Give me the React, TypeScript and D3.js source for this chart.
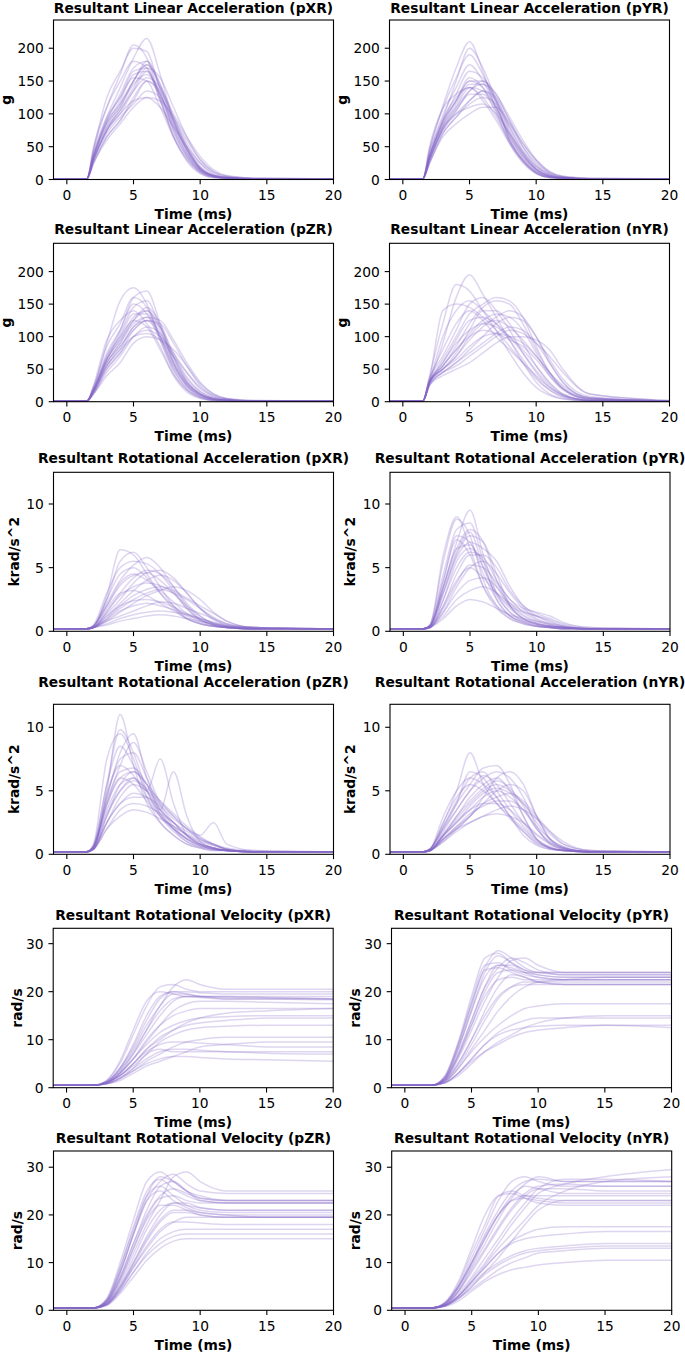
import React from 'react';
import * as d3 from 'd3';

// ---------- data ----------
const TIME_ACC = [-1, 1.5, 2, 3, 4, 5, 6, 7, 8, 9, 10, 11, 12, 14, 20];
const TIME_VEL = [-1, 2, 3, 4, 5, 6, 7, 8, 9, 10, 12, 15, 20];
const X_TICKS = [0, 5, 10, 15, 20];
const LIN_TICKS = [0, 50, 100, 150, 200];
const ROT_ACC_TICKS = [0, 5, 10];
const VEL_TICKS = [0, 10, 20, 30];

const LIN_PXR = [
  [1,1,30,75,100,135,165,130,80,40,15,5,2,1,1],
  [1,1,35,85,110,150,175,140,85,45,18,6,3,1,1],
  [1,1,25,65,90,120,150,135,95,55,25,8,3,1,1],
  [1,1,40,95,125,165,170,120,70,35,12,4,2,1,1],
  [1,1,30,70,95,115,135,125,90,50,20,7,3,1,1],
  [1,1,45,125,165,200,195,135,75,35,12,4,2,1,1],
  [1,1,35,95,140,185,215,160,90,45,15,5,2,1,1],
  [1,1,25,60,85,110,125,120,95,60,30,12,5,2,1],
  [1,1,30,80,115,150,180,145,95,50,18,6,3,1,1],
  [1,1,50,110,150,180,170,120,65,30,10,3,2,1,1],
  [1,1,30,75,105,135,155,140,100,65,35,15,6,2,1],
  [1,1,35,85,120,160,165,125,75,38,14,5,2,1,1],
  [1,1,40,90,125,155,150,110,65,32,12,4,2,1,1],
  [1,1,25,65,90,125,150,130,85,45,17,6,3,1,1],
  [1,1,35,90,130,170,180,140,90,48,18,6,3,1,1],
  [1,1,30,75,100,120,125,110,80,50,25,10,4,1,1],
  [1,1,45,110,160,205,185,125,65,28,9,3,2,1,1],
  [1,1,35,80,105,140,170,155,110,65,30,12,5,2,1],
  [1,1,30,75,110,145,160,130,80,40,15,5,2,1,1],
  [1,1,35,88,115,150,175,145,90,45,16,5,2,1,1],
];

const LIN_PYR = [
  [1,1,30,78,105,130,130,105,65,35,15,5,2,1,1],
  [1,1,35,88,120,150,140,110,70,38,16,6,3,1,1],
  [1,1,25,70,95,115,125,115,80,45,20,7,3,1,1],
  [1,1,40,98,140,175,150,110,65,32,12,4,2,1,1],
  [1,1,30,75,100,120,135,120,85,50,25,10,4,1,1],
  [1,1,45,112,170,210,165,105,55,25,9,3,2,1,1],
  [1,1,35,92,150,200,170,120,60,28,10,3,2,1,1],
  [1,1,25,65,85,100,110,110,85,55,30,12,5,2,1],
  [1,1,30,82,115,145,145,120,75,40,17,6,3,1,1],
  [1,1,50,108,130,140,120,90,55,28,10,3,2,1,1],
  [1,1,30,75,105,135,150,130,90,55,28,10,4,1,1],
  [1,1,35,84,120,155,140,100,60,30,12,4,2,1,1],
  [1,1,40,92,125,140,125,95,58,30,11,4,2,1,1],
  [1,1,25,70,95,120,135,125,90,50,22,8,3,1,1],
  [1,1,35,88,130,165,155,120,72,38,15,5,2,1,1],
  [1,1,30,78,100,110,115,100,70,42,20,8,3,1,1],
  [1,1,45,108,155,190,160,115,60,28,9,3,2,1,1],
  [1,1,35,82,110,135,145,130,95,60,30,12,5,2,1],
  [1,1,30,78,110,140,135,110,68,35,14,5,2,1,1],
  [1,1,35,88,120,150,150,125,80,42,16,5,2,1,1],
];

const LIN_PZR = [
  [1,1,15,55,80,115,125,100,55,25,10,4,2,1,1],
  [1,1,18,65,95,130,140,110,60,28,12,5,2,1,1],
  [1,1,12,45,70,100,115,105,70,35,15,6,3,1,1],
  [1,1,20,75,110,150,135,95,50,22,8,3,2,1,1],
  [1,1,15,50,75,100,110,100,75,45,20,8,3,1,1],
  [1,1,22,90,155,175,150,95,45,18,6,2,1,1,1],
  [1,1,18,70,110,160,170,120,60,25,9,3,2,1,1],
  [1,1,12,40,60,90,100,95,80,55,28,12,5,2,1],
  [1,1,15,60,90,125,145,120,70,32,12,4,2,1,1],
  [1,1,25,95,125,140,120,85,40,15,5,2,1,1,1],
  [1,1,15,55,85,115,130,125,95,60,30,12,5,2,1],
  [1,1,18,65,100,135,135,100,55,25,10,4,2,1,1],
  [1,1,20,70,100,125,115,80,42,18,7,2,1,1,1],
  [1,1,12,50,75,110,125,115,75,38,16,6,3,1,1],
  [1,1,18,65,105,145,155,115,65,30,12,4,2,1,1],
  [1,1,15,55,80,100,105,95,70,45,22,9,4,1,1],
  [1,1,22,85,120,160,145,100,50,20,7,2,1,1,1],
  [1,1,15,60,85,110,125,120,90,55,25,10,4,1,1],
  [1,1,18,60,90,120,130,105,60,28,11,4,2,1,1],
  [1,1,18,65,95,125,140,115,68,30,12,4,2,1,1],
];

const LIN_NYR = [
  [1,1,30,50,70,100,120,125,115,95,70,45,25,6,1],
  [1,1,35,140,150,145,130,110,85,60,35,18,8,2,1],
  [1,1,30,90,160,195,165,130,95,60,30,12,5,1,1],
  [1,1,25,45,60,80,100,120,130,125,100,65,35,8,1],
  [1,1,30,55,85,120,145,155,150,120,80,45,20,4,1],
  [1,1,35,70,110,150,160,140,110,75,45,22,10,2,1],
  [1,1,28,45,55,70,85,100,110,105,90,70,45,12,2],
  [1,1,30,60,95,125,130,120,100,75,48,25,10,2,1],
  [1,1,32,50,70,95,115,130,140,130,100,60,30,6,1],
  [1,1,40,120,180,170,140,110,75,45,22,10,4,1,1],
  [1,1,25,40,50,60,75,90,100,100,95,80,50,12,2],
  [1,1,30,55,80,100,110,105,95,85,65,40,20,4,1],
  [1,1,30,65,100,135,150,160,155,130,85,45,20,4,1],
  [1,1,28,50,75,110,140,140,120,90,55,28,12,2,1],
  [1,1,35,80,120,140,125,100,80,60,40,22,10,2,1],
  [1,1,25,45,60,75,90,105,115,110,90,60,30,6,1],
  [1,1,30,60,90,110,120,115,100,80,55,30,12,2,1],
  [1,1,30,50,65,85,100,105,100,90,70,45,22,5,1],
  [1,1,28,55,80,105,125,135,130,110,75,40,18,3,1],
  [1,1,32,100,140,155,140,120,95,65,38,18,7,1,1],
];

const ROT_PXR = [
  [.2,.2,.4,2.5,5.5,6.2,5,3.5,2,1,.6,.4,.3,.2,.2],
  [.2,.2,.3,1.5,3,4.2,4.8,4.5,3.5,2.2,1.2,.6,.4,.3,.2],
  [.2,.2,.3,1,1.8,2.5,3,3.3,3,2.5,1.8,1.1,.6,.3,.2],
  [.2,.2,.5,3,5,5.5,5.3,4.5,3.2,1.8,.9,.5,.3,.2,.2],
  [.2,.2,.3,.8,1.2,1.6,2,2.3,2.2,1.8,1.4,1,.6,.3,.2],
  [.2,.2,.4,2,3.8,4.5,4,3.2,2.3,1.4,.8,.5,.3,.2,.2],
  [.2,.2,.3,1.2,2.2,3.2,4,4.4,4,3,1.8,.9,.5,.3,.2],
  [.2,.2,.4,2.8,6.4,6,4.5,3,1.8,1,.6,.4,.3,.2,.2],
  [.2,.2,.3,.6,1,1.3,1.5,1.6,1.5,1.3,1,.7,.4,.2,.2],
  [.2,.2,.3,1.6,2.8,3.5,3.8,3.6,3,2,1.2,.6,.3,.2,.2],
  [.2,.2,.4,2.2,4,5.2,5.8,5,3.5,2,1,.5,.3,.2,.2],
  [.2,.2,.3,1,2,2.8,3.3,3.5,3.2,2.6,2,1.4,.8,.3,.2],
  [.2,.2,.3,1.8,3,3.2,2.8,2.2,1.6,1,.6,.4,.3,.2,.2],
  [.2,.2,.3,.8,1.5,2.2,2.8,3.2,3.5,3.2,2.5,1.5,.8,.3,.2],
  [.2,.2,.4,2.5,4.5,5,4.2,3,2,1.2,.7,.4,.3,.2,.2],
  [.2,.2,.3,.5,.8,1,1.2,1.3,1.2,1,.8,.6,.4,.2,.2],
  [.2,.2,.3,1.4,2.5,3.8,4.6,4.8,4.2,3,1.8,1,.5,.3,.2],
  [.2,.2,.3,1.2,2,2.4,2.5,2.3,1.9,1.4,1,.7,.4,.2,.2],
  [.2,.2,.4,2,3.6,4.4,4.6,4,3,1.8,.9,.5,.3,.2,.2],
  [.2,.2,.3,.9,1.6,2,2.2,2,1.7,1.3,.9,.6,.4,.2,.2],
];

const ROT_PYR = [
  [.2,.2,.4,4,7.5,7,4.5,2.5,1.2,.7,.4,.3,.2,.2,.2],
  [.2,.2,.5,5.5,8.8,7.5,4,2,1,.6,.4,.3,.2,.2,.2],
  [.2,.2,.3,2.5,5.5,6.5,5.5,3.5,2,1.2,.7,.4,.3,.2,.2],
  [.2,.2,.4,3.5,7,9.5,6,3,1.5,.8,.5,.3,.2,.2,.2],
  [.2,.2,.3,1.5,3.5,5,5.5,4.5,3,1.8,1,.6,.3,.2,.2],
  [.2,.2,.4,3,6,7.5,7,4.5,2,1,.6,.4,.3,.2,.2],
  [.2,.2,.3,1.2,2.5,3.2,3.5,3,2.2,1.6,1.2,.8,.4,.2,.2],
  [.2,.2,.5,4.5,8,8.5,5.5,2.5,1.2,.7,.4,.3,.2,.2,.2],
  [.2,.2,.3,2,4.5,6,6,5,3.2,2,1.4,1,.6,.3,.2],
  [.2,.2,.4,3.5,6.5,6.8,5,3,1.8,1,.6,.4,.3,.2,.2],
  [.2,.2,.3,1,2,2.5,2.3,1.8,1.3,1,.8,.6,.4,.2,.2],
  [.2,.2,.4,3,5.8,7,6.5,5.5,3.5,2,1.2,.7,.4,.2,.2],
  [.2,.2,.5,6,9,6.5,3.5,1.8,1,.6,.4,.3,.2,.2,.2],
  [.2,.2,.3,2,4,5,4.2,3,2,1.5,1.2,.9,.5,.2,.2],
  [.2,.2,.4,3.2,6.2,7.8,5,2.8,1.5,.9,.6,.4,.3,.2,.2],
  [.2,.2,.3,1.5,3,4,4.2,3.5,2.2,1.3,.8,.5,.3,.2,.2],
  [.2,.2,.4,4,7.2,6,3.5,2,1.2,.8,.5,.3,.2,.2,.2],
  [.2,.2,.3,2.5,5,6.2,5.8,4,2.5,1.8,1.5,1.2,.7,.3,.2],
  [.2,.2,.4,3.5,6.5,8,7,4,2,1,.6,.4,.3,.2,.2],
  [.2,.2,.3,1.8,3.8,5.2,5,3.8,2.5,1.5,.9,.5,.3,.2,.2],
];

const ROT_PZR = [
  [.2,.2,.5,5,11,7,4,2.5,1.5,.8,.5,.3,.3,.2,.2],
  [.2,.2,.6,4.5,8,9.5,6,3.5,2,1,.6,.4,.3,.2,.2],
  [.2,.2,.4,3,5.5,6.5,5.5,3.5,2.5,1.5,.8,.5,.3,.2,.2],
  [.2,.2,.7,5.5,8.5,7,5,3.2,2,1.2,.7,.4,.3,.2,.2],
  [.2,.2,.4,2.5,4.5,5.5,5,4,3,2,1.2,.7,.4,.2,.2],
  [.2,.2,.6,4,7,8.8,6.5,4,2.5,1.5,.8,.5,.3,.2,.2],
  [.2,.2,.4,2,3.5,4,3.8,3.2,2.5,1.8,1.2,.8,.4,.2,.2],
  [.2,.2,.8,7.5,9.5,7.5,4.5,2.5,1.5,.8,.5,.3,.3,.2,.2],
  [.2,.2,.4,3,5,6,5,7.5,4,1.5,.8,.5,.3,.2,.2],
  [.2,.2,.5,4,6,6.5,5.5,4.2,3,2,1.5,2.5,.8,.3,.2],
  [.2,.2,.4,2.5,4,4.5,4.5,3.5,6.5,3,1,.5,.3,.2,.2],
  [.2,.2,.5,4.5,7.5,8,6,3.8,2.2,1.2,.7,.4,.3,.2,.2],
  [.2,.2,.6,3.8,6,5.5,4.2,3,2.2,1.6,1.1,.8,.4,.2,.2],
  [.2,.2,.4,2,3,3.5,3.3,2.8,2.2,1.5,1,.7,.4,.2,.2],
  [.2,.2,.5,4.2,6.5,6.8,5.5,3.2,2,1.2,.7,.4,.3,.2,.2],
  [.2,.2,.7,5.5,9.8,8,5,3,1.8,1,.6,.4,.3,.2,.2],
  [.2,.2,.5,3.2,5,5.8,5.2,4.2,3.2,2.2,1.4,.8,.4,.2,.2],
  [.2,.2,.4,2.5,4,4.8,4.5,3.8,2.8,2,1.3,.8,.5,.3,.2],
  [.2,.2,.6,4.8,7,6.2,4.5,3,2,1.3,.8,.5,.3,.2,.2],
  [.2,.2,.5,3.5,5.5,6,5,3.5,2.5,1.5,.9,.5,.3,.2,.2],
];

const ROT_NYR = [
  [.2,.2,.4,2,4,6.5,6,4.5,3,1.8,.8,.4,.3,.2,.2],
  [.2,.2,.3,1.5,3,4.5,5.5,6,5,3,1.2,.5,.3,.2,.2],
  [.2,.2,.4,2.5,5,8,5.5,4,3,2,1,.5,.3,.2,.2],
  [.2,.2,.3,1.2,2.2,3,4,5,5.5,5,3,1.2,.5,.2,.2],
  [.2,.2,.3,1.5,2.5,3.5,4.5,5,4.5,3.5,2,1,.5,.2,.2],
  [.2,.2,.4,2.2,4,5.5,6.8,7,5.5,3,1.2,.5,.3,.2,.2],
  [.2,.2,.3,1,1.8,2.5,3,3.5,3.8,3.5,2.8,1.8,1,.3,.2],
  [.2,.2,.3,1.8,3.5,5,6,6.5,6,4.5,2.2,.8,.4,.2,.2],
  [.2,.2,.3,1.2,2,2.5,3,3.2,3,2.5,1.6,.9,.5,.2,.2],
  [.2,.2,.4,3,5,6,5.5,4.5,3,1.5,.7,.4,.3,.2,.2],
  [.2,.2,.3,1.5,2.8,4,5,5.5,5,4,2.5,1.2,.6,.2,.2],
  [.2,.2,.3,1,2,3,4,4.5,4.8,4.2,3,1.8,.8,.3,.2],
  [.2,.2,.4,2,3.5,5,6.2,5.5,4,2.5,1.2,.6,.3,.2,.2],
  [.2,.2,.3,1.4,2.6,3.5,4,4,3.5,2.5,1.5,.8,.4,.2,.2],
  [.2,.2,.4,2.5,4.5,5.5,5,4,2.8,1.8,.9,.5,.3,.2,.2],
  [.2,.2,.3,1.2,2,3,4.5,6,6.5,5.5,3,1.2,.5,.2,.2],
  [.2,.2,.3,1.6,3,4.2,5.2,5.8,5.2,3.8,2,.9,.4,.2,.2],
  [.2,.2,.3,1.2,2.2,3.2,3.8,4.2,4.2,3.5,2.2,1.2,.6,.2,.2],
  [.2,.2,.4,2.2,4.2,6,6.5,5,3.5,2.2,1.1,.5,.3,.2,.2],
  [.2,.2,.3,1.5,2.5,3.8,4.8,5.2,4.8,4,2.8,1.6,.8,.3,.2],
];

const VEL_PXR = [
  [.5,.5,1.2,4,9,15,19,20,19.5,19,19,18.8,18.5],
  [.5,.5,1.5,5,11,17,21,21.5,20.5,20,20,20,20],
  [.5,.5,1,3,7,12,17,19.5,19.5,19,18.8,18.7,18.5],
  [.5,.5,1.2,4,8,13,17,21,22.5,21.5,20.5,20.5,20.5],
  [.5,.5,1,2.5,5,8,10,12,13.5,14.5,15.5,16,16.5],
  [.5,.5,.8,2,4,6,7.5,8,8,7.8,7.5,7.2,7],
  [.5,.5,1,3,6,10,13,15,16,16.5,16.5,16.5,16.5],
  [.5,.5,.8,1.5,3,4.5,5.5,6.5,7.5,8.5,9,9.5,9.5],
  [.5,.5,1.2,3.5,7,11,15,18,19,19,18.5,18.5,18.5],
  [.5,.5,1,2.5,5,7.5,9,9.5,9.5,9.3,9,8.5,8.5],
  [.5,.5,.8,2,3.5,5,6,6.5,6.5,6.3,6,5.8,5.5],
  [.5,.5,1,3,6,9,11.5,13,14,14.5,14.8,15,15],
  [.5,.5,1.2,3.5,7.5,12,16,18.5,19,18.8,18.5,18.5,18.3],
  [.5,.5,1,2.5,4.5,7,9.5,11,12,12.5,12.8,13,13],
  [.5,.5,1.5,5.5,12,18,20,19.5,19,19,19,19,19],
  [.5,.5,.8,2,4,7,8,7.5,7.5,7.5,7.5,7.5,7.5],
  [.5,.5,1,3,6,9.5,13,16,17.5,18,18,17.8,17.5],
  [.5,.5,1,2.5,5,8,10.5,12,13,13.5,14,14.5,14.5],
  [.5,.5,1.3,4,8.5,14,18.5,20,20,19.8,19.5,19.5,19.5],
  [.5,.5,.8,1.8,3.5,5.5,7,8.5,9.5,10,10.5,10.5,10.5],
];

const VEL_PYR = [
  [.5,.5,2,8,16,24,27.5,26,24.5,24,23.5,23.5,23.5],
  [.5,.5,2.5,9.5,19,27,28,26,24.5,23.5,23,23,23],
  [.5,.5,1.8,7,14,21,25.5,25.5,24,23,22.5,22.5,22.5],
  [.5,.5,1.5,6,12,18,23,26.5,27,25.5,24,24,24],
  [.5,.5,1.2,4,8,12,16,19,21,22,22.5,23,23],
  [.5,.5,1,3,5.5,7.5,9,10.5,11.5,12,12.5,13,13],
  [.5,.5,2,8.5,17,24.5,25,24,23,22,21.5,21.5,21.5],
  [.5,.5,1.2,4,7.5,10.5,13,15,16.5,17,17.5,17.5,17.5],
  [.5,.5,1.8,7,14,21,25,27,26,24.5,23.5,23.5,23.5],
  [.5,.5,1,2.5,5,7.5,9.5,11,12.5,13.5,14.5,15,15],
  [.5,.5,1.5,5,10,15,19,21,21.5,21.5,21.5,21.5,21.5],
  [.5,.5,2.2,9,18,25.5,26,24.5,23.5,23,22.5,22.5,22.5],
  [.5,.5,1,3,6,9,11.5,13,14,14.5,14.5,14.5,14.5],
  [.5,.5,1.6,6.5,13,20,24,24.5,24,24,24,24,24],
  [.5,.5,1.4,5,10,16,21,23.5,23,22,21.5,21.5,21.5],
  [.5,.5,2,8,16,23,25.5,25,24,23.5,23,23,23],
  [.5,.5,1,3,6,9,11,12,12.5,12.8,13,13,12.5],
  [.5,.5,1.7,6.5,13,19,22.5,23,22.5,22.5,22.5,22.5,22.5],
  [.5,.5,1.3,4.5,9,14,18.5,21,22,22,22,22,22],
  [.5,.5,2.3,9,17.5,25,28.5,27,25,24,24,24,24],
];

const VEL_PZR = [
  [.5,.5,2,8,16,24,28,27,25,24,23,23,23],
  [.5,.5,2.5,10,19,27,29,27,25,23.5,23,23,23],
  [.5,.5,1.8,7,14,21,26,27,25,23,22.5,22.5,22.5],
  [.5,.5,1.5,6,12,18,23,28,29,27,25,25,25],
  [.5,.5,1.2,4,8,11.5,14,15.5,16,16,16,16,16],
  [.5,.5,1.3,5,10,15,19,21,21,20.5,20,20,20],
  [.5,.5,2,8,16,23,25,23,21.5,20.5,20,19.5,19.5],
  [.5,.5,1.2,4.5,9,13.5,17,18.5,18.5,18.3,18,18,18],
  [.5,.5,1.8,7,14,20,24,25.5,24.5,23.5,23,23,23],
  [.5,.5,1,3.5,7,10.5,13,14.5,15,15,15,15,15],
  [.5,.5,1.5,5.5,11,17,21,22.5,22,21.5,21,21,21],
  [.5,.5,2.2,9,17,24,26,24,22,21,20.5,20.5,20.5],
  [.5,.5,1.1,4,8,12,15,16.5,17,17,17,17,17],
  [.5,.5,1.6,6.5,13,19.5,23.5,24,23,22.5,22.5,22.5,22.5],
  [.5,.5,1.4,5,10,15.5,20,22.5,22.5,21.5,21,21,21],
  [.5,.5,2,8,16,23,27,28.5,26.5,25,24.5,24.5,24.5],
  [.5,.5,1.2,4.5,9,13,16.5,18.5,19.5,19.5,19.5,19.5,19.5],
  [.5,.5,1.7,6.5,13,19,22,22,21,20,19.5,19.5,19.5],
  [.5,.5,1.3,4.8,9.5,14.5,18.5,20.5,20.5,20,19.5,19.5,19.5],
  [.5,.5,2.3,9,17.5,25,27.5,25.5,24,23,22.5,22.5,22.5],
];

const VEL_NYR = [
  [.5,.5,1.5,5,11,17,23,27,28,27,26,26,26],
  [.5,.5,1.2,4,9,14,19,23.5,26.5,28,27,27,27],
  [.5,.5,1.6,5.5,12,18,24,25,24,23.5,23,23,23],
  [.5,.5,1,3,6.5,10,14,18,21.5,24.5,26.5,28,29.5],
  [.5,.5,.8,2,4,6,7.5,8.5,9,9.5,10,10.5,10.5],
  [.5,.5,1.2,4,8,12.5,17,21,24,25.5,25.5,25,25],
  [.5,.5,1,3,6,9,12,14.5,16,17,17.5,17.5,17.5],
  [.5,.5,.9,2.5,5,7.5,9.5,11,12,12.5,13,13.5,13.5],
  [.5,.5,1.4,5,10,16,21,25,27,27.5,27,27,27],
  [.5,.5,1,2.5,5,8,11,14.5,18,21,23,23,23],
  [.5,.5,1.7,6,13,20,24,24.5,23.5,22.5,22,22,22],
  [.5,.5,1,3,6,9.5,13,16,19,22,25,27,28],
  [.5,.5,.9,2.5,4.5,6.5,8.5,10,11,12,12.5,13,13],
  [.5,.5,1.3,4.5,9.5,15,20,24,26,25.5,24.5,24.5,24.5],
  [.5,.5,1.1,3.5,7,11,15,19,22.5,25.5,27.5,27.5,27],
  [.5,.5,1.5,5,10,15.5,20,23,24,24,24,24,24],
  [.5,.5,1,3,6,9,12,14,15,15.5,16,16.5,16.5],
  [.5,.5,1.2,4,8.5,13,17.5,21.5,24.5,26,26.5,26,26],
  [.5,.5,1,2.8,5.5,8,10,11.5,12.5,13,13.5,14,14],
  [.5,.5,1.4,4.8,10,15,20,23,23.5,23,22.5,22.5,22.5],
];

const PANEL_TITLES = [
  'Resultant Linear Acceleration (pXR)', 'Resultant Linear Acceleration (pYR)',
  'Resultant Linear Acceleration (pZR)', 'Resultant Linear Acceleration (nYR)',
  'Resultant Rotational Acceleration (pXR)', 'Resultant Rotational Acceleration (pYR)',
  'Resultant Rotational Acceleration (pZR)', 'Resultant Rotational Acceleration (nYR)',
  'Resultant Rotational Velocity (pXR)', 'Resultant Rotational Velocity (pYR)',
  'Resultant Rotational Velocity (pZR)', 'Resultant Rotational Velocity (nYR)',
];
const PANEL_SERIES = [
  LIN_PXR, LIN_PYR, LIN_PZR, LIN_NYR,
  ROT_PXR, ROT_PYR, ROT_PZR, ROT_NYR,
  VEL_PXR, VEL_PYR, VEL_PZR, VEL_NYR,
];

// ---------- layout ----------
const W = 280;
const ROW_TOP = [20, 243.3, 472.3, 704.3, 928.3, 1151];
const ROW_BOTTOM = [179.5, 401.7, 631.3, 854.3, 1087.7, 1310.3];
const ROW_YMAX = [243, 243.5, 12.49, 11.81, 33.2, 33.4];
const ROW_TITLE_BASE = [13.3, 234.3, 463.3, 687, 920, 1143.3];
const LEFT_COL_X = [53.5, 53.5, 53.5, 53.5, 53.2, 53.5];
const RIGHT_COL_X = [389.5, 389.5, 390, 390, 391.5, 391.7];
const FS = 13.8;
const FONT = '"DejaVu Sans", sans-serif';
const LINE_COLOR = '#8466c6';

function Panel({ idx }: { idx: number }) {
  const row = Math.floor(idx / 2);
  const col = idx % 2;
  const left = col === 0 ? LEFT_COL_X[row] : RIGHT_COL_X[row];
  const top = ROW_TOP[row];
  const bottom = ROW_BOTTOM[row];
  const kind = row < 2 ? 'lin' : row < 4 ? 'rot' : 'vel';
  const times = kind === 'vel' ? TIME_VEL : TIME_ACC;
  const yTicks = kind === 'lin' ? LIN_TICKS : kind === 'rot' ? ROT_ACC_TICKS : VEL_TICKS;
  const ylabel = kind === 'lin' ? 'g' : kind === 'rot' ? 'krad/s^2' : 'rad/s';
  const ylabOff = kind === 'lin' ? 45.5 : kind === 'rot' ? 39.6 : 36.5;
  const ylabShift = kind === 'lin' ? 3.2 : kind === 'rot' ? 5.0 : 4.8;

  const x = d3.scaleLinear().domain([-1, 20]).range([left, left + W]);
  const y = d3.scaleLinear().domain([0, ROW_YMAX[row]]).range([bottom, top]);
  const line = d3
    .line<number>()
    .x((_, i) => x(times[i]))
    .y((d) => y(d))
    .curve(d3.curveMonotoneX);

  const series = PANEL_SERIES[idx];
  const clipId = `clip-${idx}`;
  const tickLen = 4.8;

  return (
    <g>
      <defs>
        <clipPath id={clipId}>
          <rect x={left} y={top} width={W} height={bottom - top} />
        </clipPath>
      </defs>
      <g clipPath={`url(#${clipId})`}>
        {series.map((s, i) => (
          <path
            key={i}
            d={line(s) || ''}
            fill="none"
            stroke={LINE_COLOR}
            strokeOpacity={0.27}
            strokeWidth={1.5}
          />
        ))}
      </g>
      <rect x={left} y={top} width={W} height={bottom - top} fill="none" stroke="#000" strokeWidth={1.1} />
      {X_TICKS.map((t) => (
        <g key={'x' + t}>
          <line x1={x(t)} x2={x(t)} y1={bottom} y2={bottom + tickLen} stroke="#000" strokeWidth={1.1} />
          <text x={x(t)} y={bottom + 20.5} textAnchor="middle" fontSize={FS} fontFamily={FONT} fill="#000">
            {t}
          </text>
        </g>
      ))}
      {yTicks.map((t) => (
        <g key={'y' + t}>
          <line x1={left - tickLen} x2={left} y1={y(t)} y2={y(t)} stroke="#000" strokeWidth={1.1} />
          <text x={left - 9.6} y={y(t) + 5} textAnchor="end" fontSize={FS} fontFamily={FONT} fill="#000">
            {t}
          </text>
        </g>
      ))}
      <text
        x={left + W / 2}
        y={bottom + 39.5}
        textAnchor="middle"
        fontSize={FS}
        fontWeight="bold"
        fontFamily={FONT}
        fill="#000"
      >
        Time (ms)
      </text>
      <text
        transform={`translate(${left - ylabOff + ylabShift},${(top + bottom) / 2}) rotate(-90)`}
        textAnchor="middle"
        fontSize={FS}
        fontWeight="bold"
        fontFamily={FONT}
        fill="#000"
      >
        {ylabel}
      </text>
      <text
        x={left + W / 2}
        y={ROW_TITLE_BASE[row]}
        textAnchor="middle"
        fontSize={FS}
        fontWeight="bold"
        fontFamily={FONT}
        fill="#000"
      >
        {PANEL_TITLES[idx]}
      </text>
    </g>
  );
}

export default function App() {
  return (
    <svg
      width={685}
      height={1353}
      viewBox="0 0 685 1353"
      style={{ position: 'absolute', left: 0, top: 0, background: '#fff' }}
    >
      <rect x={0} y={0} width={685} height={1353} fill="#fff" />
      {PANEL_TITLES.map((_, i) => (
        <Panel key={i} idx={i} />
      ))}
    </svg>
  );
}
